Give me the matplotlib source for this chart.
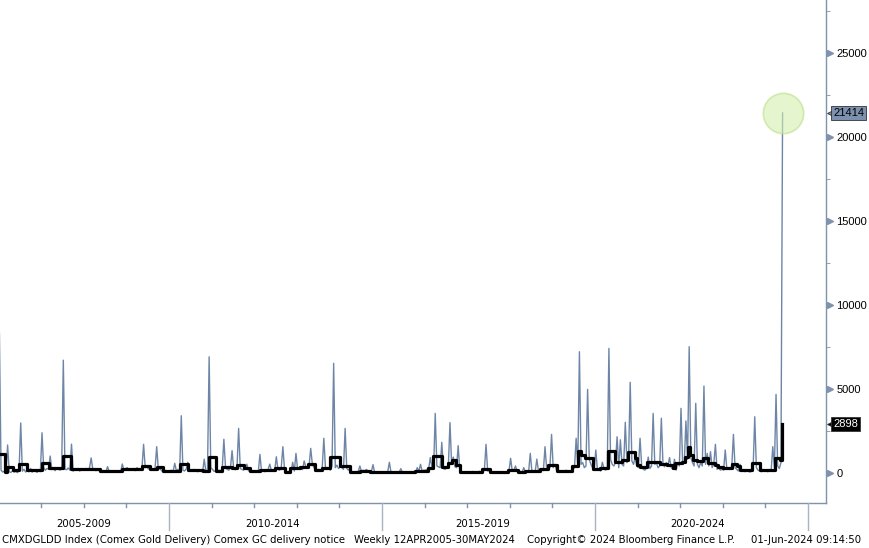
import matplotlib
matplotlib.use("Agg")
import matplotlib.pyplot as plt
import matplotlib.transforms as mtransforms
import numpy as np

# Comex GC delivery notices, two slots per month-ish (26 per year)
notices = {
    2006: [8300, 150, 40, 90, 20, 1650, 60, 10, 120, 30, 80, 0, 150, 2960, 90, 200, 40, 110, 60, 250, 30, 180, 90, 20, 140, 60],
    2007: [2380, 300, 150, 250, 200, 990, 180, 240, 120, 300, 220, 150, 260, 6700, 200, 180, 280, 150, 1700, 90, 200, 160, 250, 100, 180, 220],
    2008: [150, 250, 180, 300, 880, 200, 160, 120, 240, 90, 60, 130, 80, 40, 360, 70, 20, 110, 50, 90, 30, 120, 60, 520, 150, 240],
    2009: [300, 180, 220, 150, 250, 120, 300, 200, 180, 260, 1690, 300, 350, 220, 280, 150, 200, 260, 1550, 180, 250, 120, 80, 150, 60, 120],
    2010: [90, 150, 60, 560, 120, 200, 80, 3390, 150, 100, 220, 620, 180, 90, 160, 200, 120, 60, 150, 90, 40, 800, 110, 60, 6900, 300],
    2011: [200, 80, 120, 60, 150, 90, 250, 1990, 300, 200, 150, 280, 1310, 220, 180, 300, 2640, 250, 200, 150, 280, 510, 120, 40, 60, 20],
    2012: [60, 120, 40, 1090, 80, 150, 60, 100, 200, 510, 120, 180, 90, 950, 200, 150, 300, 1550, 220, 40, 20, 80, 30, 620, 100, 1150],
    2013: [200, 300, 250, 180, 700, 350, 280, 400, 1450, 500, 300, 150, 100, 200, 80, 250, 2050, 300, 200, 280, 150, 400, 6510, 300, 450, 250],
    2014: [350, 300, 200, 2640, 250, 150, 300, 80, 40, 60, 20, 90, 400, 60, 150, 100, 200, 80, 120, 30, 480, 20, 10, 40, 0, 30],
    2015: [20, 40, 0, 60, 620, 30, 10, 50, 20, 0, 40, 240, 20, 60, 10, 30, 0, 40, 20, 60, 10, 300, 80, 500, 100, 150],
    2016: [150, 200, 250, 900, 300, 200, 3530, 400, 350, 300, 1810, 250, 200, 300, 400, 2980, 500, 930, 350, 300, 1610, 100, 40, 20, 60, 10],
    2017: [30, 60, 0, 80, 20, 50, 10, 90, 40, 60, 150, 1690, 100, 120, 40, 20, 0, 30, 10, 40, 0, 20, 30, 10, 40, 100],
    2018: [860, 100, 150, 400, 60, 30, 80, 20, 300, 40, 90, 60, 1150, 80, 120, 50, 810, 100, 150, 200, 120, 1550, 250, 180, 300, 2280],
    2019: [300, 500, 150, 80, 100, 60, 120, 90, 150, 60, 100, 80, 200, 300, 2050, 400, 7200, 500, 600, 300, 400, 4960, 800, 500, 300, 150],
    2020: [1350, 150, 200, 100, 620, 250, 150, 300, 7400, 800, 500, 400, 600, 2140, 300, 1960, 500, 400, 3000, 600, 800, 5380, 700, 500, 900, 400],
    2021: [300, 2050, 400, 200, 150, 300, 930, 250, 400, 3530, 500, 600, 300, 400, 3240, 500, 350, 600, 400, 900, 300, 200, 800, 150, 600, 400],
    2022: [3830, 500, 600, 3080, 800, 7500, 900, 600, 400, 4130, 500, 300, 600, 400, 5160, 500, 1150, 400, 1250, 300, 500, 1690, 200, 300, 150, 200],
    2023: [150, 1350, 200, 300, 250, 400, 2280, 300, 200, 100, 500, 80, 120, 60, 150, 100, 40, 80, 200, 3330, 300, 150, 100, 60, 150, 80],
    2024: [100, 60, 150, 80, 1550, 300, 4660, 400, 250, 600, 21414],
}

# moving average line (black), as step breakpoints
avg_dates = [2005.98, 2006.15, 2006.20, 2006.34, 2006.48, 2006.67, 2007.02, 2007.18, 2007.51, 2007.70,
             2007.84, 2008.38, 2008.90, 2009.37, 2009.55, 2009.72, 2009.86, 2010.26, 2010.45, 2010.80,
             2010.94, 2011.10, 2011.24, 2011.48, 2011.60, 2011.76, 2011.90, 2012.14, 2012.49, 2012.72,
             2012.84, 2013.08, 2013.26, 2013.43, 2013.59, 2013.78, 2014.01, 2014.25, 2014.48, 2014.72,
             2015.77, 2016.08, 2016.20, 2016.41, 2016.55, 2016.64, 2016.74, 2016.83, 2017.35, 2017.54,
             2017.96, 2018.19, 2018.36, 2018.71, 2018.90, 2019.11, 2019.46, 2019.60, 2019.67, 2019.77,
             2019.95, 2020.12, 2020.30, 2020.47, 2020.63, 2020.78, 2020.94, 2020.99, 2021.06, 2021.22,
             2021.36, 2021.53, 2021.69, 2021.83, 2021.88, 2022.04, 2022.11, 2022.18, 2022.23, 2022.30,
             2022.39, 2022.54, 2022.65, 2022.82, 2022.89, 2023.00, 2023.12, 2023.22, 2023.33, 2023.40,
             2023.69, 2023.87, 2024.23, 2024.34, 2024.40]
avg_values = [1090, 60, 360, 160, 520, 180, 560, 260, 1010, 230,
              200, 100, 200, 400, 250, 320, 120, 520, 160, 130,
              960, 100, 350, 260, 430, 260, 80, 160, 260, 60,
              260, 360, 500, 160, 300, 930, 420, 60, 130, 40,
              120, 260, 990, 350, 560, 750, 450, 60, 220, 30,
              160, 60, 100, 200, 430, 100, 400, 1290, 1050, 890,
              200, 260, 1290, 660, 750, 1210, 900, 460, 320, 660,
              640, 520, 480, 260, 560, 620, 950, 1550, 1080, 750,
              700, 850, 600, 460, 320, 260, 300, 520, 380, 160,
              600, 160, 860, 780, 2898]

group_labels = ["2005-2009", "2010-2014", "2015-2019", "2020-2024"]
footer = ["CMXDGLDD Index (Comex Gold Delivery) Comex GC delivery notice",
          "Weekly 12APR2005-30MAY2024",
          "Copyright\u00a9 2024 Bloomberg Finance L.P.",
          "01-Jun-2024 09:14:50"]

# ---------------------------------------------------------------------------
W, H = 869, 548
fig = plt.figure(figsize=(W / 100, H / 100), dpi=100)
ax = fig.add_axes([0, 1 - 503 / H, 826 / W, 503 / H])

xs, ys = [], []
for yr, vals in notices.items():
    for k, v in enumerate(vals):
        xs.append(yr + (k + 0.5) / 26)
        ys.append(v)

blue = "#6d85a6"
axis_c = "#7f93ad"
ax.plot(xs, ys, color=blue, lw=1.0, zorder=2)
ax.plot(avg_dates, avg_values, color="black", lw=2.3, drawstyle="steps-post", zorder=3)

# highlight circle on the last print
ax.plot([xs[-1]], [ys[-1]], marker="o", ms=29, mfc="#d4efae", mec="#b9e087",
        mew=1.2, alpha=0.6, zorder=4)

ax.set_xlim(2006.033, 2025.423)
ax.set_ylim(-1803, 28136)

for s in ["left", "top"]:
    ax.spines[s].set_visible(False)
for s in ["right", "bottom"]:
    ax.spines[s].set_color(axis_c)
    ax.spines[s].set_linewidth(1.0)

lab_font = "Liberation Sans"
ax.set_xticks([])
ax.yaxis.tick_right()
yt = [0, 5000, 10000, 15000, 20000, 25000]
ax.set_yticks(yt)
ax.set_yticklabels([str(v) for v in yt], fontsize=8, family=lab_font)
ax.tick_params(axis="y", length=0, pad=7.5)
ax.set_yticks(np.arange(2500, 28000, 5000), minor=True)
ax.tick_params(axis="y", which="minor", length=3, direction="out", color=axis_c)

tr = mtransforms.blended_transform_factory(ax.transAxes, ax.transData)
off = mtransforms.offset_copy(tr, fig=fig, x=3.5, y=0, units="dots")
ax.plot([1.0] * len(yt), yt, ls="none", marker=">", ms=5, color=axis_c,
        transform=off, clip_on=False)

# last value tags
for val, fc, tc in [(21414, "#7b91ad", "black"), (2898, "black", "white")]:
    ax.plot([1.0], [val], marker="<", ms=6, color=fc, mec="#333333", mew=0.6,
            transform=mtransforms.offset_copy(tr, fig=fig, x=4.5, y=0, units="dots"),
            clip_on=False, zorder=5)
    ax.annotate(str(val), xy=(1.0, val), xycoords=tr, xytext=(5, 0),
                textcoords="offset points", va="center", ha="left",
                fontsize=8, color=tc, family=lab_font,
                bbox=dict(boxstyle="square,pad=0.2", fc=fc, ec="#333333", lw=0.6),
                annotation_clip=False, zorder=6)

# x-axis: year ticks and 5-year group separators
def px(year):
    return (year - 2006.033) / (2025.423 - 2006.033) * 826

for yr in range(2006, 2026):
    x = px(yr)
    if yr % 5 == 0:
        fig.add_artist(plt.Line2D([x / W, x / W], [1 - 503 / H, 1 - 530 / H],
                                  color="#a8b4c4", lw=1.0))
    else:
        fig.add_artist(plt.Line2D([x / W, x / W], [1 - 503 / H, 1 - 507 / H],
                                  color=axis_c, lw=1.0))

group_centers = [84, 273, 483, 698]
for lab, cx in zip(group_labels, group_centers):
    fig.text(cx / W, 1 - 524 / H, lab, ha="center", va="center", fontsize=7.3,
             family="DejaVu Sans")

footer_x = [2, 354, 527, 751]
for txt, fx in zip(footer, footer_x):
    fig.text(fx / W, 1 - 540 / H, txt, ha="left", va="center", fontsize=7.3,
             family="DejaVu Sans")

fig.savefig("out.png", dpi=100)
